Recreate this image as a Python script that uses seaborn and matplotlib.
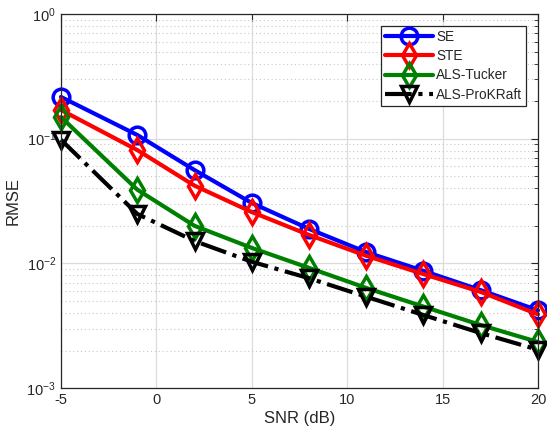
import numpy as np
import pandas as pd
import seaborn as sns
import matplotlib
matplotlib.use("Agg")
import matplotlib.pyplot as plt
from matplotlib.ticker import LogLocator, NullFormatter

snr = [-5, -1, 2, 5, 8, 11, 14, 17, 20]
se = [0.216, 0.107, 0.056, 0.0305, 0.0189, 0.0123, 0.0087, 0.0061, 0.0042]
ste = [0.17, 0.081, 0.042, 0.0258, 0.0169, 0.0115, 0.0082, 0.0059, 0.0039]
als_tucker = [0.149, 0.039, 0.020, 0.0133, 0.0092, 0.00635, 0.0045, 0.0032, 0.00234]
als_prokraft = [0.098, 0.0249, 0.0151, 0.0103, 0.0076, 0.0054, 0.00385, 0.00276, 0.00203]
labels = ["SE", "STE", "ALS-Tucker", "ALS-ProKRaft"]

sns.set_style("white")
plt.rcParams['font.family'] = ['Liberation Sans', 'DejaVu Sans']
plt.rcParams['axes.unicode_minus'] = False

fig = plt.figure(figsize=(5.47, 4.37), dpi=100)
ax = fig.add_axes([0.1115, 0.112, 0.872, 0.856])

styles = [
    (se, "blue", "o", "-"),
    (ste, "red", "d", "-"),
    (als_tucker, "green", "d", "-"),
    (als_prokraft, "black", "v", "-."),
]
for lab, (vals, col, mk, ls) in zip(labels, styles):
    df = pd.DataFrame({"SNR": snr, "RMSE": vals})
    sns.lineplot(data=df, x="SNR", y="RMSE", ax=ax, color=col, marker=mk,
                 linestyle=ls, linewidth=3, markersize=12, markerfacecolor="none",
                 markeredgecolor=col, markeredgewidth=2.5, label=lab, clip_on=False)

ax.set_yscale("log")
ax.set_xlim(-5, 20)
ax.set_ylim(1e-3, 1)
ax.set_xticks([-5, 0, 5, 10, 15, 20])
ax.yaxis.set_major_locator(LogLocator(base=10, numticks=10))
ax.yaxis.set_minor_locator(LogLocator(base=10, subs=np.arange(2, 10), numticks=100))
ax.yaxis.set_minor_formatter(NullFormatter())

ax.grid(True, which="major", color="#dcdcdc", linewidth=0.9, linestyle="-")
ax.grid(True, which="minor", axis="y", color="#c8c8c8", linewidth=0.8, linestyle=(0, (1, 2.5)))
ax.set_axisbelow(True)

for s in ax.spines.values():
    s.set_color("#262626")
    s.set_linewidth(0.9)
ax.tick_params(axis="both", which="both", direction="in", top=True, right=True,
               colors="#262626", labelsize=10.5, labelcolor="#262626")
ax.tick_params(which="major", length=5)
ax.tick_params(which="minor", length=3)

ax.set_xlabel("SNR (dB)", fontsize=12, color="#262626", labelpad=3)
ax.set_ylabel("RMSE", fontsize=12, color="#262626", labelpad=4)

leg = ax.legend(loc="upper right", bbox_to_anchor=(0.975, 0.968), fontsize=9.8,
                frameon=True, fancybox=False, edgecolor="#262626", framealpha=1,
                handlelength=3.5, borderpad=0.3, labelspacing=0.38, handletextpad=0.25,
                borderaxespad=0)
leg.get_frame().set_linewidth(0.9)

fig.savefig("out.png", dpi=100)
